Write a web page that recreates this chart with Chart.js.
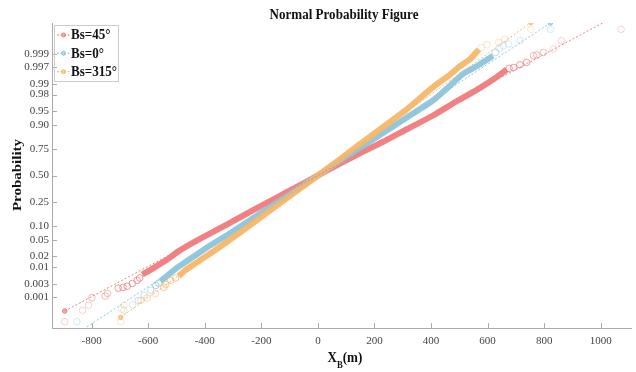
<!DOCTYPE html>
<html>
<head>
<meta charset="utf-8">
<script src="https://cdn.jsdelivr.net/npm/chart.js@4.4.0/dist/chart.umd.min.js"></script>
<style>
html,body{margin:0;padding:0;background:#fff;}
#wrap{width:636px;height:372px;position:relative;}
</style>
</head>
<body>
<div id="wrap"><canvas id="c" width="636" height="372"></canvas></div>
<script>
// ---- data (x in metres, y as normal score of the plotting position) ----
const seriesNames = ['Bs=45°', 'Bs=0°', 'Bs=315°'];
const xTicks = [-800, -600, -400, -200, 0, 200, 400, 600, 800, 1000];
const probTicks = ['0.001','0.003','0.01','0.02','0.05','0.10','0.25','0.50','0.75','0.90','0.95','0.98','0.99','0.997','0.999'];

const bs45Band = [[-621,-2.51],[-598,-2.42],[-570,-2.30],[-530,-2.12],[-492,-1.92],[-422,-1.63],[-316,-1.22],[-211,-0.81],[-141,-0.54],[-70,-0.27],[0,0],[70,0.27],[141,0.54],[229,0.85],[316,1.18],[404,1.51],[492,1.89],[563,2.18],[622,2.45],[668,2.69]];
const bs45Tails = [[-895,-3.71],[-832,-3.42],[-811,-3.29],[-799,-3.10],[-752,-3.06],[-744,-2.99],[-706,-2.86],[-689,-2.84],[-674,-2.81],[-656,-2.74],[-639,-2.66],[-630,-2.60],
                   [676,2.72],[692,2.74],[714,2.81],[738,2.87],[762,3.04],[774,3.06],[797,3.12],[832,3.21],[861,3.42],[1072,3.71]];
const bs45Fit = [[-895,-3.44],[1072,4.12]];

const bs0Band = [[-556,-2.68],[-497,-2.34],[-438,-2.05],[-380,-1.77],[-316,-1.49],[-246,-1.16],[-141,-0.67],[-70,-0.33],[0,0],[70,0.33],[141,0.67],[229,1.07],[316,1.48],[408,1.91],[467,2.28],[513,2.58],[563,2.78],[619,3.04]];
const bs0Tails = [[-852,-3.71],[-686,-3.42],[-655,-3.29],[-635,-3.17],[-614,-3.04],[-591,-2.91],[-573,-2.79],[-563,-2.73],
                  [628,3.12],[642,3.24],[656,3.29],[674,3.34],[715,3.43],[822,3.71]];
const bs0Fit = [[-852,-4.01],[822,3.87]];

const bs315Band = [[-492,-2.55],[-462,-2.37],[-427,-2.20],[-391,-2.03],[-352,-1.84],[-258,-1.36],[-141,-0.74],[-70,-0.37],[0,0],[70,0.37],[141,0.76],[229,1.22],[316,1.69],[408,2.25],[465,2.55],[504,2.78],[539,2.96],[569,3.20]];
const bs315Tails = [[-697,-3.71],[-693,-3.39],[-685,-3.29],[-626,-3.17],[-604,-3.11],[-574,-3.00],[-545,-2.84],[-538,-2.76],[-520,-2.66],[-503,-2.60],
                    [578,3.25],[598,3.32],[639,3.38],[660,3.46],[753,3.71]];
const bs315Fit = [[-697,-3.60],[753,3.88]];

// ---- styles ----
const colors = ['240,122,124', '140,196,220', '248,182,104'];
const SERIF = "'Liberation Serif','Times New Roman',serif";
const SQ = 0.87; // horizontal squeeze of the original figure text

function norminv(p){
  const a=[-3.969683028665376e+01,2.209460984245205e+02,-2.759285104469687e+02,1.383577518672690e+02,-3.066479806614716e+01,2.506628277459239e+00];
  const b=[-5.447609879822406e+01,1.615858368580409e+02,-1.556989798598866e+02,6.680131188771972e+01,-1.328068155288572e+01];
  const c=[-7.784894002430293e-03,-3.223964580411365e-01,-2.400758277161838e+00,-2.549732539343734e+00,4.374664141464968e+00,2.938163982698783e+00];
  const d=[7.784695709041462e-03,3.224671290700398e-01,2.445134137142996e+00,3.754408661907416e+00];
  const pl=0.02425, ph=1-pl; let q,r;
  if(p<pl){q=Math.sqrt(-2*Math.log(p));return (((((c[0]*q+c[1])*q+c[2])*q+c[3])*q+c[4])*q+c[5])/((((d[0]*q+d[1])*q+d[2])*q+d[3])*q+1);}
  if(p<=ph){q=p-0.5;r=q*q;return (((((a[0]*r+a[1])*r+a[2])*r+a[3])*r+a[4])*r+a[5])*q/(((((b[0]*r+b[1])*r+b[2])*r+b[3])*r+b[4])*r+1);}
  q=Math.sqrt(-2*Math.log(1-p));return -(((((c[0]*q+c[1])*q+c[2])*q+c[3])*q+c[4])*q+c[5])/((((d[0]*q+d[1])*q+d[2])*q+d[3])*q+1);
}
const pts = arr => arr.map(([x,y]) => ({x, y}));

const bands = [bs45Band, bs0Band, bs315Band];
const tails = [bs45Tails, bs0Tails, bs315Tails];
const fits = [bs45Fit, bs0Fit, bs315Fit];

const datasets = [];
for (let i = 0; i < 3; i++) {
  const col = colors[i];
  datasets.push({
    type: 'line', label: seriesNames[i] + ' fit', data: pts(fits[i]),
    borderColor: `rgba(${col},0.95)`, borderWidth: 1, borderDash: [2, 2],
    pointRadius: 2.2, pointBorderWidth: 1, pointBorderColor: `rgba(${col},1)`, pointBackgroundColor: `rgba(${col},0.6)`,
    order: 1, tension: 0
  });
  datasets.push({
    type: 'scatter', label: seriesNames[i] + ' tails', data: pts(tails[i]),
    borderColor: c => {
      const v = c.raw ? Math.abs(c.raw.y) : 3;
      const a = v < 2.9 ? 0.75 : (v < 3.2 ? 0.5 : 0.35);
      return `rgba(${col},${a})`;
    },
    backgroundColor: 'rgba(0,0,0,0)',
    pointRadius: 3.3, borderWidth: 1, order: 4 - i
  });
  datasets.push({
    type: 'line', label: seriesNames[i], data: pts(bands[i]),
    borderColor: `rgba(${col},0.95)`, borderWidth: 6, pointRadius: 0,
    borderCapStyle: 'butt', borderJoinStyle: 'round', tension: 0.2, order: 10 - i
  });
}

const decor = {
  id: 'decor',
  afterDraw(chart) {
    const ctx = chart.ctx, ca = chart.chartArea;
    const xs = chart.scales.x, ys = chart.scales.y;
    ctx.save();
    // inward tick marks
    ctx.strokeStyle = '#aaaaaa'; ctx.lineWidth = 1; ctx.setLineDash([]);
    ctx.beginPath();
    xs.ticks.forEach(t => { const px = Math.round(xs.getPixelForValue(t.value)) + 0.5; ctx.moveTo(px, ca.bottom); ctx.lineTo(px, ca.bottom - 5); });
    ys.ticks.forEach(t => { const py = Math.round(ys.getPixelForValue(t.value)) + 0.5; ctx.moveTo(ca.left, py); ctx.lineTo(ca.left + 5, py); });
    ctx.stroke();

    // title
    ctx.fillStyle = '#111';
    ctx.font = `bold 15px ${SERIF}`;
    ctx.textBaseline = 'alphabetic';
    ctx.save(); ctx.translate(344, 18.5); ctx.scale(SQ, 1);
    ctx.textAlign = 'center'; ctx.fillText('Normal Probability Figure', 0, 0); ctx.restore();

    // y label
    ctx.save(); ctx.translate(18, 175); ctx.rotate(-Math.PI / 2); ctx.scale(1, SQ);
    ctx.textAlign = 'center'; ctx.textBaseline = 'middle';
    ctx.fillText('Probability', 0, 0); ctx.restore();

    // x label X_B(m)
    ctx.save(); ctx.translate(327.5, 361.5); ctx.scale(SQ, 1);
    ctx.textAlign = 'left'; ctx.textBaseline = 'alphabetic';
    ctx.font = `bold 15px ${SERIF}`;
    ctx.fillText('X', 0, 0); let w = ctx.measureText('X').width;
    ctx.font = `bold 10px ${SERIF}`;
    ctx.fillText('B', w, 6); w += ctx.measureText('B').width;
    ctx.font = `bold 15px ${SERIF}`;
    ctx.fillText('(m)', w, 0);
    ctx.restore();

    // legend
    ctx.strokeStyle = '#cccccc'; ctx.lineWidth = 1;
    ctx.strokeRect(54.5, 25.5, 64, 56);
    const rows = [35, 53.3, 71.7];
    for (let i = 0; i < 3; i++) {
      const y = rows[i], col = colors[i];
      ctx.strokeStyle = `rgba(${col},1)`; ctx.lineWidth = 1; ctx.setLineDash([2, 1.5]);
      ctx.beginPath(); ctx.moveTo(57, y); ctx.lineTo(70, y); ctx.stroke();
      ctx.setLineDash([]);
      ctx.fillStyle = `rgba(${col},0.6)`;
      ctx.beginPath(); ctx.arc(63.5, y, 2, 0, Math.PI * 2); ctx.fill(); ctx.stroke();
      ctx.save(); ctx.translate(71, y + 0.5); ctx.scale(SQ, 1);
      ctx.fillStyle = '#111'; ctx.font = `bold 15px ${SERIF}`;
      ctx.textAlign = 'left'; ctx.textBaseline = 'middle';
      ctx.fillText(seriesNames[i], 0, 0); ctx.restore();
    }
    ctx.restore();
  }
};

new Chart(document.getElementById('c'), {
  data: { datasets },
  options: {
    responsive: false, animation: false,
    layout: { padding: { left: 0, right: 1, top: 23, bottom: 0 } },
    plugins: { legend: { display: false }, title: { display: false }, tooltip: { enabled: false } },
    scales: {
      x: {
        type: 'linear', min: -940, max: 1107,
        grid: { display: false, drawTicks: false },
        border: { display: true, color: '#aaaaaa', width: 1 },
        afterBuildTicks: s => { s.ticks = xTicks.map(v => ({ value: v })); },
        afterFit: s => { s.height = 44; },
        ticks: { padding: 7, color: '#444', font: { family: SERIF, size: 11 }, callback: v => String(v), maxRotation: 0 }
      },
      y: {
        type: 'linear', min: -3.87, max: 3.87,
        grid: { display: false, drawTicks: false },
        border: { display: true, color: '#aaaaaa', width: 1 },
        afterBuildTicks: s => { s.ticks = probTicks.map(p => ({ value: norminv(parseFloat(p)) })); },
        afterFit: s => { s.width = 52; },
        ticks: { padding: 3, color: '#444', font: { family: SERIF, size: 11 }, callback: (v, i) => probTicks[i] }
      }
    }
  },
  plugins: [decor]
});
</script>
</body>
</html>
